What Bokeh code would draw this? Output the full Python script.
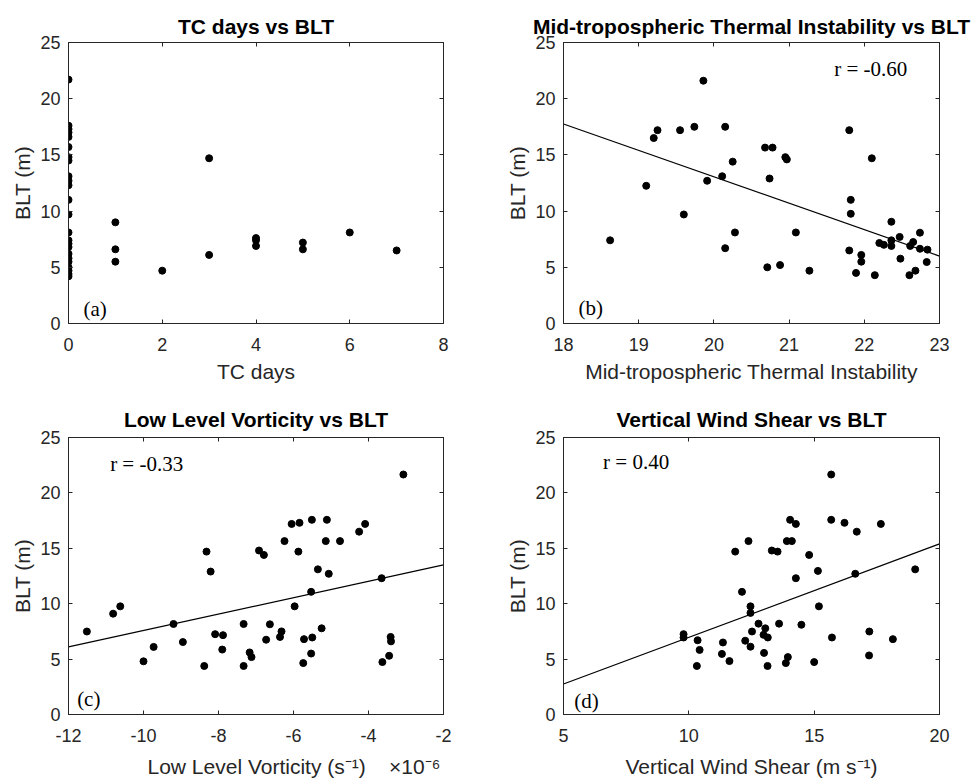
from bokeh.plotting import figure
from bokeh.layouts import gridplot
from bokeh.models import LinearAxis, FixedTicker, Label, Range1d
from bokeh.embed import file_html
from bokeh.resources import INLINE

# ---------------- data ----------------
y_ticks = [0, 5, 10, 15, 20, 25]
blt_label = "BLT (m)"

# (a) TC days vs BLT
tc_days = [0] * 24 + [1, 1, 1, 2, 3, 3, 4, 4, 4, 5, 5, 6, 7]
tc_blt = [21.7, 17.6, 17.3, 17.0, 16.6, 15.7, 14.8, 14.5, 13.1, 12.7, 12.3, 11.0,
          9.7, 8.1, 7.4, 7.1, 6.8, 6.2, 5.8, 5.5, 5.0, 4.7, 4.4, 4.2,
          9.0, 6.6, 5.5, 4.7, 14.7, 6.1, 7.6, 7.4, 6.9, 7.2, 6.6, 8.1, 6.5]
tc_ticks = [0, 2, 4, 6, 8]

# (b) Mid-tropospheric Thermal Instability vs BLT
mti_x = [18.62, 19.10, 19.20, 19.25, 19.55, 19.60, 19.74, 19.86, 19.91, 20.11, 20.15, 20.15,
         20.25, 20.28, 20.68, 20.78, 20.74, 20.95, 20.97, 20.71, 20.88, 21.09, 21.27, 21.80,
         21.82, 21.82, 21.80, 21.89, 21.96, 21.96, 22.10, 22.14, 22.20, 22.26, 22.36, 22.36,
         22.36, 22.47, 22.48, 22.60, 22.61, 22.65, 22.68, 22.74, 22.74, 22.84, 22.83]
mti_y = [7.4, 12.25, 16.5, 17.2, 17.2, 9.7, 17.5, 21.6, 12.7, 13.1, 17.5, 6.7,
         14.4, 8.1, 15.65, 15.65, 12.9, 14.8, 14.6, 5.0, 5.2, 8.1, 4.7, 17.2,
         11.0, 9.76, 6.5, 4.5, 6.1, 5.5, 14.7, 4.3, 7.16, 7.0, 9.05, 7.4,
         6.9, 7.7, 5.77, 4.3, 6.9, 7.25, 4.7, 8.08, 6.65, 6.57, 5.47]
mti_ticks = [18, 19, 20, 21, 22, 23]
fit_b_x = [18, 23]
fit_b_y = [17.75, 6.0]

# (c) Low Level Vorticity (x 1e-6 s^-1) vs BLT
vort_x = [-11.51, -10.81, -10.62, -10.0, -9.73, -9.20, -8.95, -8.38, -8.32, -8.21, -8.09, -7.88,
          -7.90, -7.33, -7.33, -7.17, -7.12, -6.92, -6.79, -6.73, -6.63, -6.36, -6.32, -6.24,
          -6.05, -5.97, -5.84, -5.87, -5.74, -5.72, -5.53, -5.53, -5.51, -5.50, -5.35, -5.25,
          -5.14, -5.11, -5.06, -4.76, -4.25, -4.09, -3.65, -3.63, -3.45, -3.41, -3.40, -3.07]
vort_y = [7.49, 9.1, 9.76, 4.8, 6.1, 8.17, 6.54, 4.38, 14.7, 12.9, 7.25, 7.16,
          5.86, 8.17, 4.38, 5.6, 5.18, 14.8, 14.4, 6.75, 8.14, 7.0, 7.5, 15.65,
          17.2, 9.76, 17.3, 14.7, 4.64, 6.8, 11.07, 5.5, 17.57, 6.95, 13.1, 7.78,
          15.65, 17.57, 12.7, 15.65, 16.5, 17.2, 12.3, 4.73, 5.3, 7.0, 6.6, 21.66]
vort_ticks = [-12, -10, -8, -6, -4, -2]
vort_scale = "\u00d710\u207b\u2076"
fit_c_x = [-12, -2]
fit_c_y = [6.1, 13.5]

# (d) Vertical Wind Shear vs BLT
wind_x = [9.79, 9.79, 10.35, 10.43, 10.32, 11.36, 11.32, 11.62, 11.85, 12.12, 12.38, 12.25,
          12.46, 12.46, 12.46, 12.52, 12.78, 13.05, 12.98, 13.15, 13.0, 13.14, 13.31, 13.54,
          13.60, 13.87, 13.95, 13.91, 14.11, 14.04, 14.27, 14.27, 14.49, 14.80, 15.0, 15.15,
          15.19, 15.68, 15.68, 15.71, 16.21, 16.64, 16.70, 17.20, 17.19, 17.66, 18.14, 19.03]
wind_y = [7.25, 6.95, 6.7, 5.83, 4.38, 6.5, 5.47, 4.82, 14.7, 11.07, 15.65, 6.66,
          6.12, 9.76, 9.17, 7.49, 8.2, 7.78, 7.19, 6.95, 5.56, 4.38, 14.8, 14.7,
          8.2, 4.64, 5.18, 15.65, 15.65, 17.57, 17.2, 12.3, 8.1, 14.4, 4.73, 12.96,
          9.76, 21.66, 17.57, 6.95, 17.3, 12.7, 16.5, 7.49, 5.33, 17.2, 6.8, 13.1]
wind_ticks = [5, 10, 15, 20]
fit_d_x = [5, 20]
fit_d_y = [2.75, 15.4]

# ---------------- styling ----------------
AX = "#262626"
SANS = "Liberation Sans"
SERIF = "Liberation Serif"
NB = "\u00a0"


def style_axis(ax, ticks, show_labels=True, label_standoff=8, tick_standoff=12):
    ax.ticker = FixedTicker(ticks=ticks)
    ax.axis_line_color = AX
    ax.major_tick_line_color = AX
    ax.major_tick_in = 4
    ax.major_tick_out = 0
    ax.minor_tick_line_color = None
    ax.major_label_text_font = SANS
    if show_labels:
        ax.major_label_overrides = {t: str(t) for t in ticks}
        ax.major_label_text_color = AX
        ax.major_label_text_font_size = "18px"
        ax.major_label_standoff = tick_standoff
        ax.axis_label_text_font = SANS
        ax.axis_label_text_font_size = "21px"
        ax.axis_label_text_font_style = "normal"
        ax.axis_label_text_color = AX
        ax.axis_label_standoff = label_standoff
    else:
        ax.major_label_text_color = None
        ax.major_label_text_font_size = "0px"
        ax.major_label_standoff = 0


def panel(title, xlabel, xr, xticks, width, height, left, right, top, bottom,
          xlab_standoff, xtick_standoff, title_standoff):
    f = figure(width=width, height=height, x_range=Range1d(*xr), y_range=Range1d(0, 25),
               output_backend="svg", toolbar_location=None, title=title,
               min_border_left=left, min_border_right=right,
               min_border_top=top, min_border_bottom=bottom)
    f.grid.visible = False
    f.outline_line_color = AX
    f.title.text_font = SANS
    f.title.text_font_size = "21px"
    f.title.text_font_style = "bold"
    f.title.text_color = "black"
    f.title.align = "center"
    f.title.standoff = title_standoff
    style_axis(f.xaxis[0], xticks, label_standoff=xlab_standoff, tick_standoff=xtick_standoff)
    style_axis(f.yaxis[0], y_ticks, label_standoff=3, tick_standoff=8)
    f.xaxis[0].axis_label = xlabel
    f.yaxis[0].axis_label = blt_label
    top_ax = LinearAxis()
    style_axis(top_ax, xticks, show_labels=False)
    f.add_layout(top_ax, "above")
    right_ax = LinearAxis()
    style_axis(right_ax, y_ticks, show_labels=False)
    f.add_layout(right_ax, "right")
    return f


def tag(f, x, y, text):
    f.add_layout(Label(x=x, y=y, text=text, text_font=SERIF, text_font_size="21px",
                       text_color="black", text_align="left", text_baseline="middle"))


DOT = 7

pa = panel("TC days vs BLT", "TC days", (0, 8), tc_ticks, 490, 385, 68, 47, 42, 62, 6, 14, 10)
pa.scatter(tc_days, tc_blt, size=DOT, color="black")
tag(pa, 0.32, 1.3, "(a)")

pb = panel("Mid-tropospheric Thermal Instability vs BLT", "Mid-tropospheric Thermal Instability",
           (18, 23), mti_ticks, 486, 385, 73, 37, 42, 62, 6, 14, 10)
pb.line(fit_b_x, fit_b_y, line_color="black", line_width=1.2)
pb.scatter(mti_x, mti_y, size=DOT, color="black")
tag(pb, 18.2, 1.36, "(b)")
tag(pb, 21.6, 22.6, "r = -0.60")

# x label of (c): the scale factor sits at the right end, main text stays centred
vort_label = NB * 13 + "Low Level Vorticity (s\u207b\u00b9)" + NB * 4 + vort_scale
pc = panel("Low Level Vorticity vs BLT", vort_label,
           (-12, -2), vort_ticks, 490, 395, 68, 47, 52, 62, 10, 14, 14)
pc.line(fit_c_x, fit_c_y, line_color="black", line_width=1.2)
pc.scatter(vort_x, vort_y, size=DOT, color="black")
tag(pc, -11.77, 1.36, "(c)")
tag(pc, -10.89, 22.65, "r = -0.33")

pd_ = panel("Vertical Wind Shear vs BLT", "Vertical Wind Shear (m s\u207b\u00b9)",
            (5, 20), wind_ticks, 486, 395, 73, 37, 52, 62, 10, 14, 14)
pd_.line(fit_d_x, fit_d_y, line_color="black", line_width=1.2)
pd_.scatter(wind_x, wind_y, size=DOT, color="black")
tag(pd_, 5.43, 1.18, "(d)")
tag(pd_, 6.58, 22.8, "r = 0.40")

p = gridplot([[pa, pb], [pc, pd_]], toolbar_location=None)

with open("out.html", "w") as fh:
    fh.write(file_html(p, INLINE))
